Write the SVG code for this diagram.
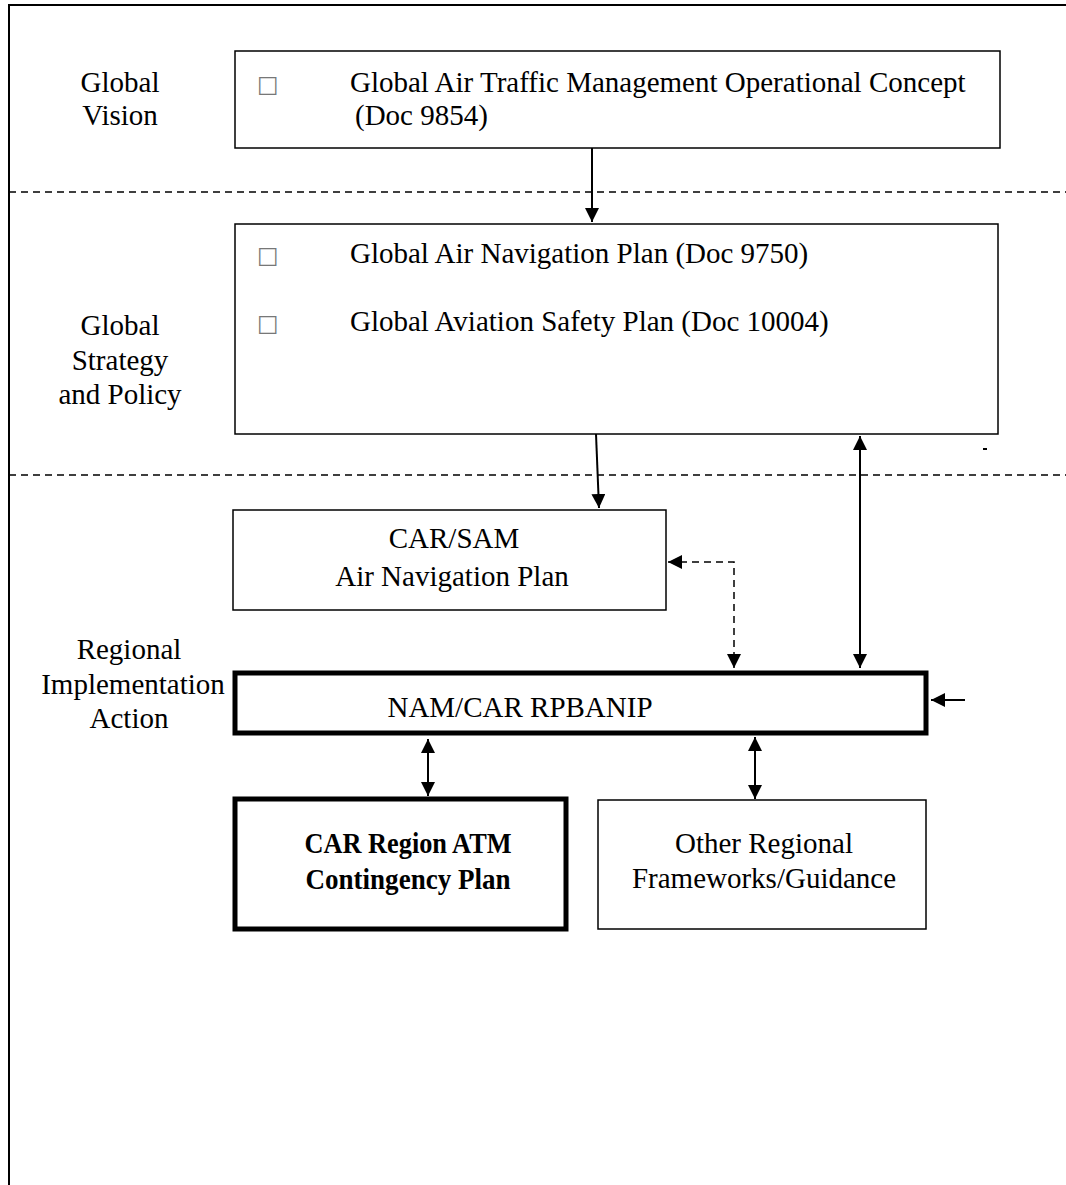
<svg xmlns="http://www.w3.org/2000/svg" width="1066" height="1185" viewBox="0 0 1066 1185">
<style>
text{font-family:"Liberation Serif","Times New Roman",serif;font-size:29px;fill:#000}
.c{text-anchor:middle}
.b{font-weight:bold}
.tofu{font-family:"DejaVu Sans",sans-serif;font-size:23px;fill:#777}
.box{fill:#fff;stroke:#000;stroke-width:1.5}
.thick{fill:#fff;stroke:#000;stroke-width:5}
.ln{stroke:#000;stroke-width:2;fill:none}
.dash{stroke:#000;stroke-width:1.5;stroke-dasharray:7 5;fill:none}
</style>
<defs>
<marker id="ah2" viewBox="0 0 10 10" refX="10" refY="5" markerWidth="14" markerHeight="14" orient="auto-start-reverse" markerUnits="userSpaceOnUse">
<path d="M0,0 L10,5 L0,10 z" fill="#000"/>
</marker>
</defs>
<rect width="1066" height="1185" fill="#fff"/>
<g id="frame">
<path d="M9,1185 V5 H1066" class="ln" stroke-width="1.5"/>
<path d="M9,192 H1066" class="dash"/>
<path d="M9,475 H1066" class="dash"/>
<rect x="983" y="448" width="4" height="2" fill="#000"/>
</g>
<g id="labels">
<text class="c" x="120" y="92">Global</text>
<text class="c" x="120" y="125">Vision</text>
<text class="c" x="120" y="335">Global</text>
<text class="c" x="120" y="370">Strategy</text>
<text class="c" x="120" y="404">and Policy</text>
<text class="c" x="129" y="659">Regional</text>
<text class="c" x="133" y="694">Implementation</text>
<text class="c" x="129" y="728">Action</text>
</g>
<g id="connectors">
<path d="M592,148 V222" class="ln" marker-end="url(#ah2)"/>
<path d="M596,434 L599,508" class="ln" marker-end="url(#ah2)"/>
<path d="M860,436 V668" class="ln" marker-start="url(#ah2)" marker-end="url(#ah2)"/>
<path d="M668,562 H734 V668" class="dash" stroke-width="2.5" marker-start="url(#ah2)" marker-end="url(#ah2)"/>
<path d="M965,700 H931" class="ln" marker-end="url(#ah2)"/>
<path d="M428,739 V796" class="ln" stroke-width="2.5" marker-start="url(#ah2)" marker-end="url(#ah2)"/>
<path d="M755,737 V799" class="ln" stroke-width="2.5" marker-start="url(#ah2)" marker-end="url(#ah2)"/>
</g>
<g id="atm-concept">
<rect x="235" y="51" width="765" height="97" class="box"/>
<text class="tofu" x="257" y="92">□</text>
<text x="350" y="92">Global Air Traffic Management Operational Concept</text>
<text x="355" y="125">(Doc 9854)</text>
</g>
<g id="global-plans">
<rect x="235" y="224" width="763" height="210" class="box"/>
<text class="tofu" x="257" y="263">□</text>
<text x="350" y="263">Global Air Navigation Plan (Doc 9750)</text>
<text class="tofu" x="257" y="331">□</text>
<text x="350" y="331">Global Aviation Safety Plan (Doc 10004)</text>
</g>
<g id="carsam">
<rect x="233" y="510" width="433" height="100" class="box"/>
<text class="c" x="454" y="548">CAR/SAM</text>
<text class="c" x="452" y="586">Air Navigation Plan</text>
</g>
<g id="rpbanip">
<rect x="235" y="673" width="691" height="60" class="thick"/>
<text class="c" x="520" y="717">NAM/CAR RPBANIP</text>
</g>
<g id="contingency">
<rect x="235" y="799" width="331" height="130" class="thick"/>
<text class="c b" x="408" y="853" textLength="207" lengthAdjust="spacingAndGlyphs">CAR Region ATM</text>
<text class="c b" x="408" y="889" textLength="205" lengthAdjust="spacingAndGlyphs">Contingency Plan</text>
</g>
<g id="other">
<rect x="598" y="800" width="328" height="129" class="box"/>
<text class="c" x="764" y="853">Other Regional</text>
<text class="c" x="764" y="888">Frameworks/Guidance</text>
</g>
</svg>
